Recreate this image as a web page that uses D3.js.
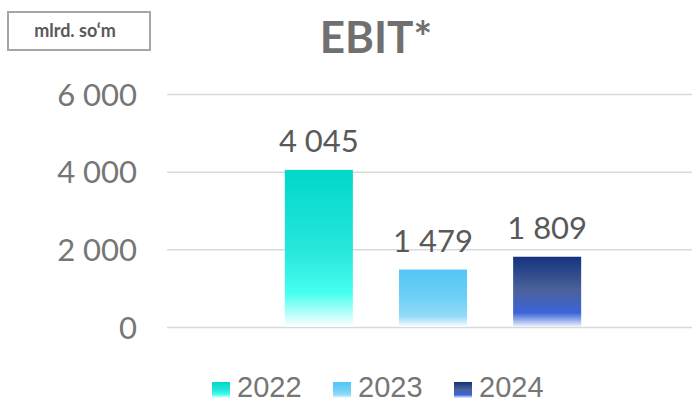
<!DOCTYPE html>
<html>
<head>
<meta charset="utf-8">
<script src="https://cdn.jsdelivr.net/npm/d3@7"></script>
<style>
  html, body { margin: 0; padding: 0; background: #fff; }
  svg { display: block; }
</style>
</head>
<body>
<svg id="chart" width="692" height="405"></svg>
<script>
// EBIT by year, billion so'm
const years = ["2022", "2023", "2024"];
const values = [4045, 1479, 1809];
const yTicks = [0, 2000, 4000, 6000];
const unitLabel = "mlrd. so‘m";
const titleText = "EBIT*";

// vertical gradient stops per year (offset, colour)
const gradients = [
  [[0, "#00d8ca"], [0.5, "#26e6da"], [0.78, "#45fff0"], [1, "#ffffff"]],
  [[0, "#52c6f5"], [0.5, "#6fd0f6"], [0.82, "#95dcf8"], [1, "#ffffff"]],
  [[0, "#14327e"], [0.47, "#4b6299"], [0.8, "#3a64da"], [1, "#f2f5fd"]]
];

const svg = d3.select("#chart");
const fmt = v => d3.format(",")(v).replace(/,/g, " ");

const plot = { left: 167, right: 699, top: 94, bottom: 327 };

const y = d3.scaleLinear().domain([0, 6000]).range([plot.bottom, plot.top]);
const x = d3.scaleBand().domain(years)
  .range([262, 604]).paddingInner(0.404).paddingOuter(0.2);

// gradients
const defs = svg.append("defs");
gradients.forEach((stops, i) => {
  const g = defs.append("linearGradient").attr("id", "g" + i)
    .attr("x1", 0).attr("y1", 0).attr("x2", 0).attr("y2", 1);
  stops.forEach(s => g.append("stop").attr("offset", s[0]).attr("stop-color", s[1]));
});

// gridlines and tick labels
const yAxis = d3.axisLeft(y).tickValues(yTicks)
  .tickSize(-(plot.right - plot.left)).tickPadding(30).tickFormat(fmt);
const ga = svg.append("g").attr("transform", `translate(${plot.left},0)`).call(yAxis);
ga.select(".domain").remove();
ga.selectAll(".tick line").attr("stroke", "#d9d9d9").attr("stroke-width", 1.5);
ga.selectAll(".tick text")
  .attr("fill", "#767676")
  .style("font-family", "Lato, 'Open Sans', sans-serif")
  .style("font-size", "31px")
  .attr("dy", "0.36em");

// bars
svg.append("g").selectAll("rect").data(values).join("rect")
  .attr("x", (d, i) => x(years[i]))
  .attr("width", x.bandwidth())
  .attr("y", d => y(d))
  .attr("height", d => y(0) - y(d))
  .attr("fill", (d, i) => `url(#g${i})`);

// value labels
svg.append("g").selectAll("text").data(values).join("text")
  .attr("x", (d, i) => x(years[i]) + x.bandwidth() / 2)
  .attr("y", d => y(d) - 18)
  .attr("text-anchor", "middle")
  .attr("fill", "#595959")
  .style("font-family", "Lato, 'Open Sans', sans-serif")
  .style("font-size", "31px")
  .text(d => fmt(d));

// title
svg.append("text")
  .attr("x", 376).attr("y", 53)
  .attr("text-anchor", "middle")
  .attr("fill", "#707070")
  .style("font-family", "Lato, sans-serif")
  .style("font-weight", "bold")
  .style("font-size", "44px")
  .text(titleText);

// unit box
svg.append("rect")
  .attr("x", 8).attr("y", 12).attr("width", 142).attr("height", 38)
  .attr("fill", "#fff").attr("stroke", "#a6a6a6").attr("stroke-width", 2);
svg.append("text")
  .attr("x", 75).attr("y", 37)
  .attr("text-anchor", "middle")
  .attr("fill", "#595959")
  .style("font-family", "Lato, sans-serif")
  .style("font-weight", "bold")
  .style("font-size", "18px")
  .text(unitLabel);

// legend
const legendX = [212, 333, 454];
const lg = svg.append("g").selectAll("g").data(years).join("g")
  .attr("transform", (d, i) => `translate(${legendX[i]},0)`);
lg.append("rect")
  .attr("x", 0).attr("y", 382).attr("width", 18).attr("height", 16)
  .attr("fill", (d, i) => `url(#g${i})`);
lg.append("text")
  .attr("x", 25).attr("y", 397)
  .attr("fill", "#767676")
  .style("font-family", "'Liberation Sans', Arial, sans-serif")
  .style("font-size", "29px")
  .text(d => d);
</script>
</body>
</html>
